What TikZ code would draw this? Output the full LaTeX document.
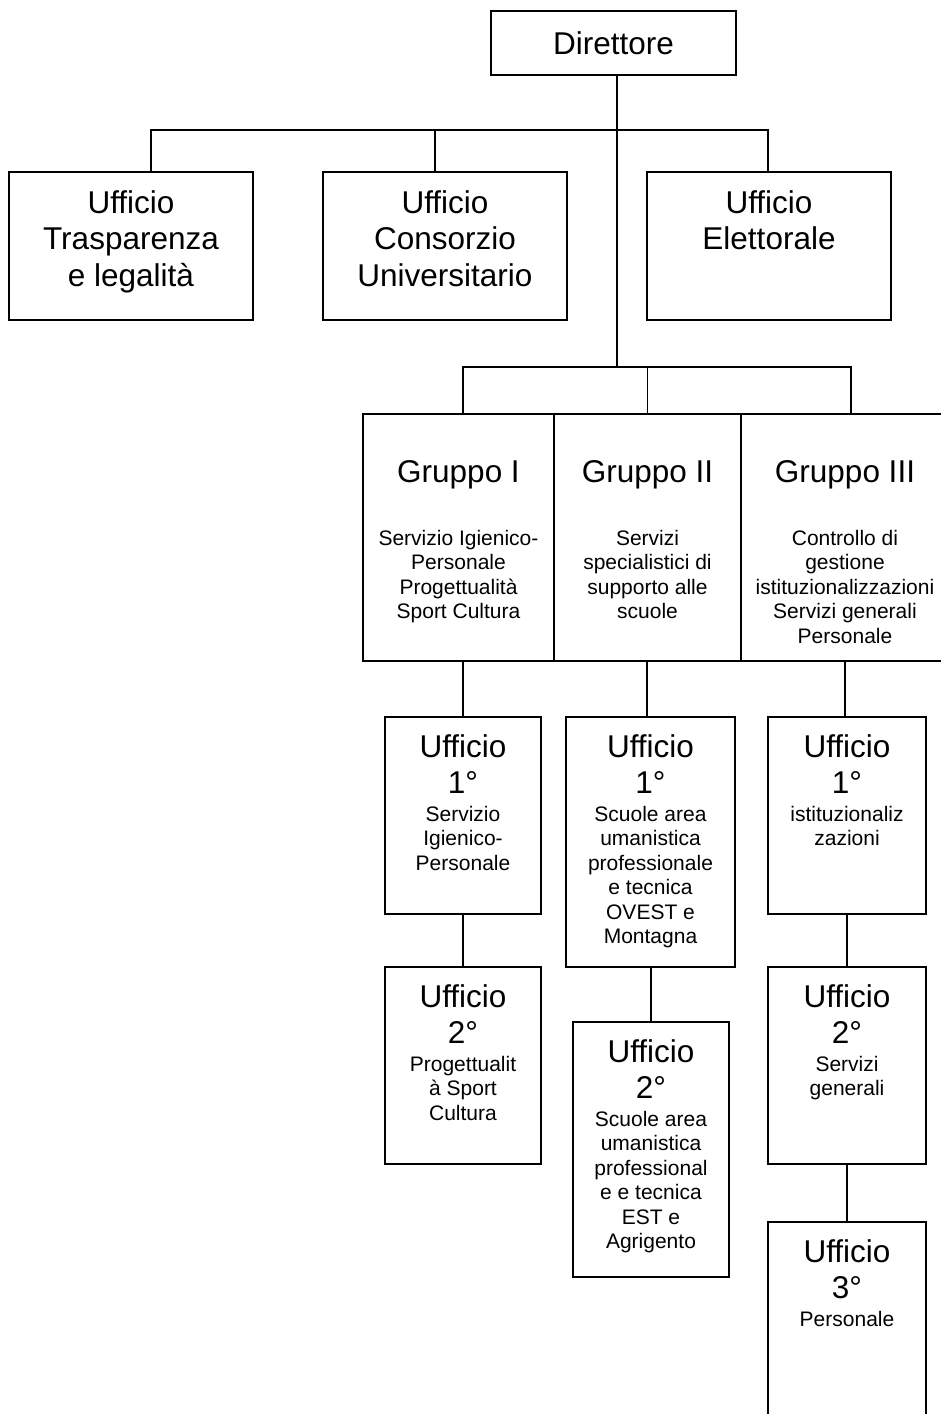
\documentclass[tikz,border=0pt]{standalone}
\usepackage{fontspec}
\setmainfont{Liberation Sans}
\usetikzlibrary{calc}
\newcommand{\fbig}{\fontsize{31.5}{36.5}\selectfont}
\newcommand{\fsmall}{\fontsize{21}{24.5}\selectfont}
\tikzset{
  box/.style={draw, line width=1.8pt, inner sep=0pt, outer sep=0pt},
  head/.style={font=\fbig, align=center, inner sep=0pt, anchor=north},
  desc/.style={font=\fsmall, align=center, inner sep=0pt, anchor=north},
  conn/.style={line width=1.4pt}
}

\begin{document}
\begin{tikzpicture}[x=1pt, y=-1pt]

	\useasboundingbox (0,0) rectangle (941,1414);
	\clip (0,0) rectangle (941,1414);

	% bus coordinates
	\coordinate (bus1) at (617,130);
	\coordinate (bus2) at (617,367);

	% director
	\node [box, font=\fbig, minimum width=245, minimum height=64] (D) at (613.5,43) {Direttore};

	% staff offices
	\node [box, minimum width=244, minimum height=148] (uT) at (131,246) {};
	\node [box, minimum width=244, minimum height=148] (uC) at (445,246) {};
	\node [box, minimum width=244, minimum height=148] (uE) at (769,246) {};
	\node [head] (uTt) at ([yshift=-18]uT.north) {Ufficio\\Trasparenza\\e legalità};
	\node [head] (uCt) at ([yshift=-18]uC.north) {Ufficio\\Consorzio\\Universitario};
	\node [head] (uEt) at ([yshift=-18]uE.north) {Ufficio\\Elettorale};

	% groups
	\node [box, minimum width=191, minimum height=247] (g1) at (458.5,537.5) {};
	\node [box, minimum width=187, minimum height=247] (g2) at (647.5,537.5) {};
	\node [box, minimum width=208, minimum height=247] (g3) at (845,537.5) {};
	\node [head] (g1t) at ([yshift=-46]g1.north) {Gruppo I};
	\node [head] (g2t) at ([yshift=-46]g2.north) {Gruppo II};
	\node [head] (g3t) at ([yshift=-46]g3.north) {Gruppo III};
	\node [desc] (g1d) at ([yshift=-116]g1.north) {Servizio Igienico-\\Personale\\Progettualità\\Sport Cultura};
	\node [desc] (g2d) at ([yshift=-116]g2.north) {Servizi\\specialistici di\\supporto alle\\scuole};
	\node [desc] (g3d) at ([yshift=-116]g3.north) {Controllo di\\gestione\\istituzionalizzazioni\\Servizi generali\\Personale};

	% first offices
	\node [box, minimum width=156, minimum height=197] (u11) at (463,815.5) {};
	\node [box, minimum width=169, minimum height=250] (u21) at (650.5,842) {};
	\node [box, minimum width=158, minimum height=197] (u31) at (847,815.5) {};
	\node [head] (u11t) at ([yshift=-17]u11.north) {Ufficio\\1°};
	\node [head] (u21t) at ([yshift=-17]u21.north) {Ufficio\\1°};
	\node [head] (u31t) at ([yshift=-17]u31.north) {Ufficio\\1°};
	\node [desc] (u11d) at ([yshift=-89]u11.north) {Servizio\\Igienico-\\Personale};
	\node [desc] (u21d) at ([yshift=-89]u21.north) {Scuole area\\umanistica\\professionale\\e tecnica\\OVEST e\\Montagna};
	\node [desc] (u31d) at ([yshift=-89]u31.north) {istituzionaliz\\zazioni};

	% second and third offices
	\node [box, minimum width=156, minimum height=197] (u12) at (463,1065.5) {};
	\node [box, minimum width=156, minimum height=255] (u22) at (651,1149.5) {};
	\node [box, minimum width=158, minimum height=197] (u32) at (847,1065.5) {};
	\node [box, minimum width=158, minimum height=200] (u33) at (847,1322) {};
	\node [head] (u12t) at ([yshift=-17]u12.north) {Ufficio\\2°};
	\node [head] (u22t) at ([yshift=-17]u22.north) {Ufficio\\2°};
	\node [head] (u32t) at ([yshift=-17]u32.north) {Ufficio\\2°};
	\node [head] (u33t) at ([yshift=-17]u33.north) {Ufficio\\3°};
	\node [desc] (u12d) at ([yshift=-89]u12.north) {Progettualit\\à Sport\\Cultura};
	\node [desc] (u22d) at ([yshift=-89]u22.north) {Scuole area\\umanistica\\professional\\e e tecnica\\EST e\\Agrigento};
	\node [desc] (u32d) at ([yshift=-89]u32.north) {Servizi\\generali};
	\node [desc] (u33d) at ([yshift=-89]u33.north) {Personale};

	% connectors
	\draw [conn] ([xshift=3.5]D.south) -- (bus2);
	\draw [conn] ([xshift=20]uT.north) |- (bus1) -| ([xshift=-1]uE.north);
	\draw [conn] ([xshift=-10]uC.north) -- ([xshift=-10]uC.north |- bus1);
	\draw [conn] ([xshift=4.5]g1.north) |- (bus2) -| ([xshift=6]g3.north);
	\draw [conn] (g2.north) -- (g2.north |- bus2);
	\draw [conn] (u11.north) -- (u11.north |- g1.south);
	\draw [conn] ([xshift=-3.5]u21.north) -- ([xshift=-3.5]u21.north |- g2.south);
	\draw [conn] ([xshift=-2]u31.north) -- ([xshift=-2]u31.north |- g3.south);
	\draw [conn] (u12.north) -- (u11.south);
	\draw [conn] (u22.north) -- (u22.north |- u21.south);
	\draw [conn] (u32.north) -- (u31.south);
	\draw [conn] (u33.north) -- (u32.south);

\end{tikzpicture}
\end{document}
